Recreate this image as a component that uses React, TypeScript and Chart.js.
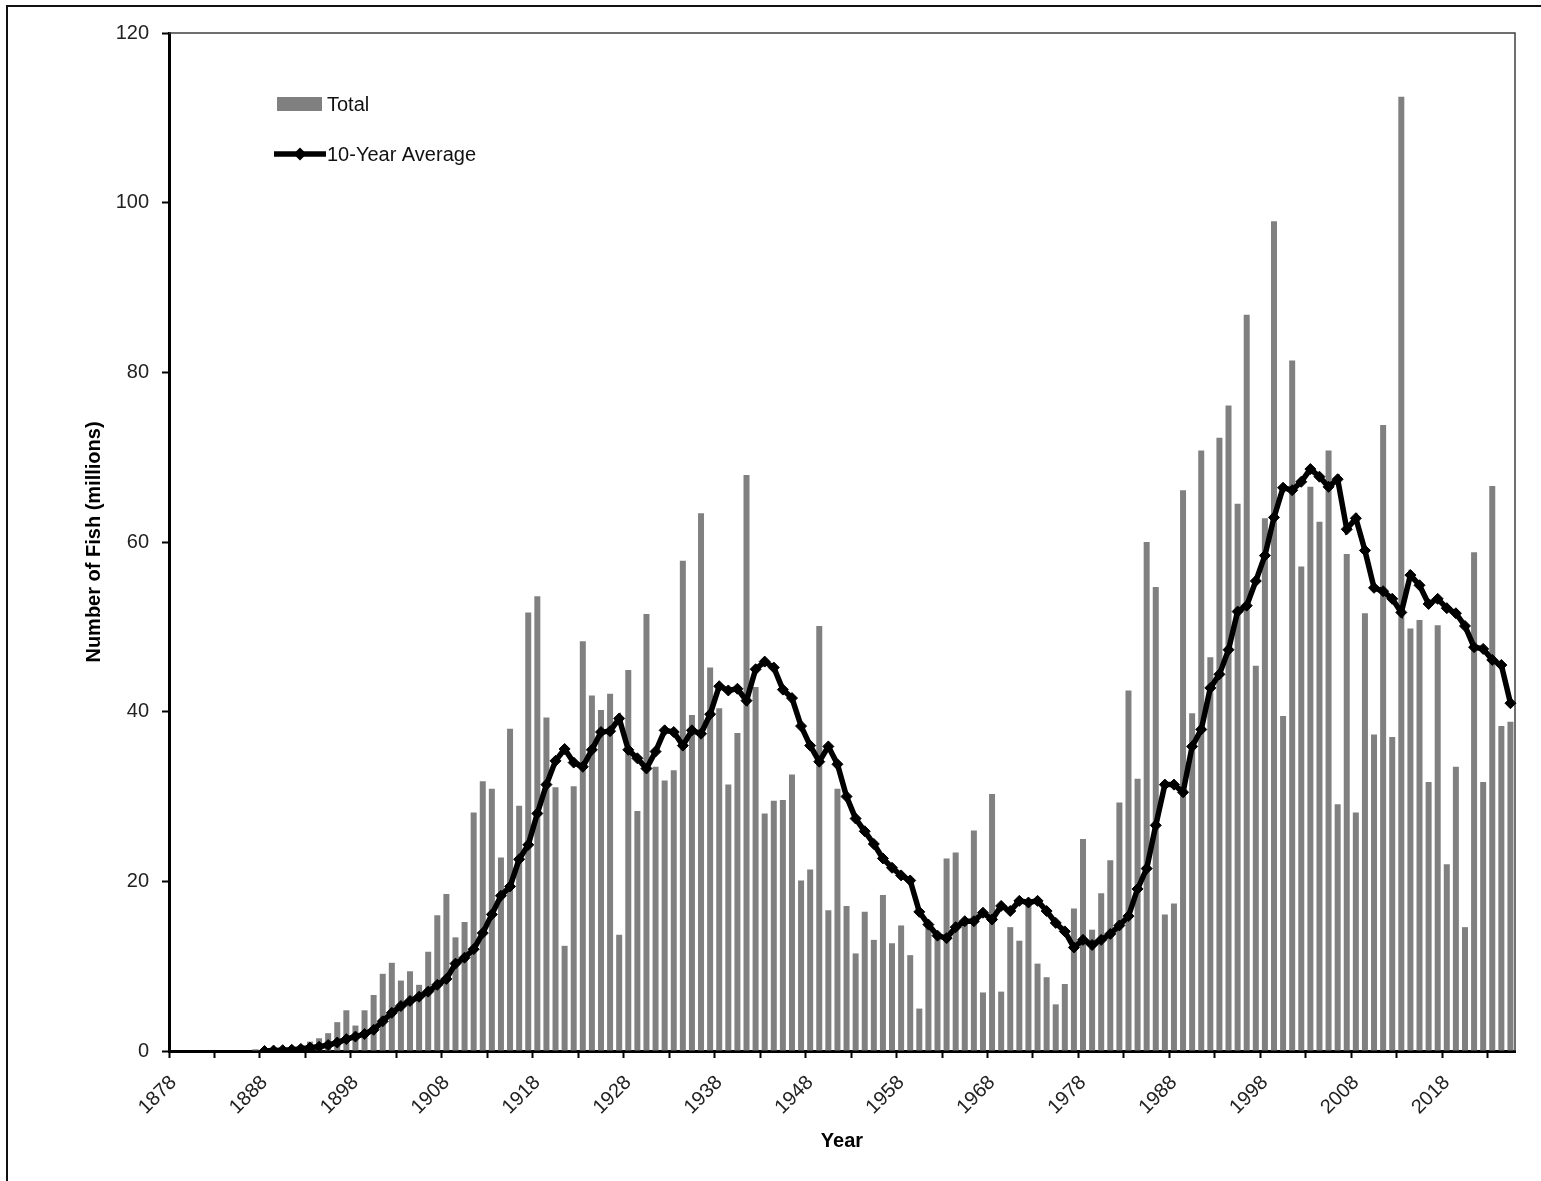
import React, { useEffect, useRef } from "react";
import { Chart, registerables, ChartConfiguration, Plugin } from "chart.js";

Chart.register(...registerables);

const FONT = "'Liberation Sans', Arial, sans-serif";
const BAR_COLOR = "#808080";

// category axis: one slot per year
const FIRST_YEAR = 1878;
const LAST_YEAR = 2025;
const years = Array.from({ length: LAST_YEAR - FIRST_YEAR + 1 }, (_, i) => String(FIRST_YEAR + i));

// annual totals (millions), starting 1887
const totalStartYear = 1887;
const totals = [
  0.2, 0.1, 0.2, 0.3, 0.5, 0.7, 1.1, 1.5, 2.1, 3.4, // 1887-1896
  4.8, 3.0, 4.8, 6.6, 9.1, 10.4, 8.3, 9.4, 7.8, 11.7, // 1897-1906
  16.0, 18.5, 13.4, 15.2, 28.1, 31.8, 30.9, 22.8, 38.0, 28.9, // 1907-1916
  51.7, 53.6, 39.3, 31.1, 12.4, 31.2, 48.3, 41.9, 40.2, 42.1, // 1917-1926
  13.7, 44.9, 28.3, 51.5, 33.5, 31.9, 33.1, 57.8, 39.6, 63.4, // 1927-1936
  45.2, 40.4, 31.4, 37.5, 67.9, 42.9, 28.0, 29.5, 29.6, 32.6, // 1937-1946
  20.1, 21.4, 50.1, 16.6, 30.9, 17.1, 11.5, 16.4, 13.1, 18.4, // 1947-1956
  12.7, 14.8, 11.3, 5.0, 15.1, 14.0, 22.7, 23.4, 15.3, 26.0, // 1957-1966
  6.9, 30.3, 7.0, 14.6, 13.0, 17.3, 10.3, 8.7, 5.5, 7.9, // 1967-1976
  16.8, 25.0, 14.3, 18.6, 22.5, 29.3, 42.5, 32.1, 60.0, 54.7, // 1977-1986
  16.1, 17.4, 66.1, 39.8, 70.8, 46.4, 72.3, 76.1, 64.5, 86.8, // 1987-1996
  45.4, 62.8, 97.8, 39.5, 81.4, 57.1, 66.5, 62.4, 70.8, 29.1, // 1997-2006
  58.6, 28.1, 51.6, 37.3, 73.8, 37.0, 112.5, 49.8, 50.8, 31.7, // 2007-2016
  50.2, 22.0, 33.5, 14.6, 58.8, 31.7, 66.6, 38.3, 38.8, // 2017-2025
];

// 10-year average (millions), starting 1888
const averageStartYear = 1888;
const averages = [
  0.0, 0.05, 0.1, 0.15, 0.25, 0.4, 0.5, 0.7, 1.0, 1.4, // 1888-1897
  1.7, 2.0, 2.5, 3.5, 4.5, 5.3, 5.9, 6.4, 7.0, 7.8, // 1898-1907
  8.5, 10.3, 11.0, 12.0, 13.9, 16.1, 18.3, 19.4, 22.6, 24.3, // 1908-1917
  28.0, 31.4, 34.2, 35.6, 34.0, 33.5, 35.5, 37.6, 37.7, 39.2, // 1918-1927
  35.5, 34.5, 33.3, 35.3, 37.8, 37.6, 36.0, 37.8, 37.4, 39.7, // 1928-1937
  43.0, 42.5, 42.7, 41.3, 45.0, 45.9, 45.2, 42.6, 41.6, 38.3, // 1938-1947
  36.0, 34.1, 35.9, 33.8, 30.0, 27.4, 25.9, 24.4, 22.7, 21.6, // 1948-1957
  20.7, 20.1, 16.4, 14.9, 13.6, 13.3, 14.6, 15.3, 15.3, 16.3, // 1958-1967
  15.5, 17.1, 16.5, 17.7, 17.5, 17.7, 16.5, 15.1, 14.1, 12.2, // 1968-1977
  13.1, 12.5, 13.1, 13.8, 14.8, 15.9, 19.1, 21.5, 26.6, 31.4, // 1978-1987
  31.4, 30.5, 35.9, 37.9, 42.8, 44.4, 47.3, 51.8, 52.5, 55.4, // 1988-1997
  58.4, 62.9, 66.4, 66.1, 67.1, 68.6, 67.7, 66.5, 67.4, 61.5, // 1998-2007
  62.8, 59.0, 54.6, 54.2, 53.3, 51.7, 56.1, 54.9, 52.7, 53.3, // 2008-2017
  52.2, 51.6, 50.1, 47.6, 47.4, 46.1, 45.5, 41.0, // 2018-2025
];

const yTicks = [0, 20, 40, 60, 80, 100, 120];

function alignToYears(startYear: number, values: number[]) {
  return years.map((y) => {
    const k = Number(y) - startYear;
    return k >= 0 && k < values.length ? values[k] : null;
  });
}

// thin frame on top/right of the plot area
const plotFrame: Plugin<"bar"> = {
  id: "plotFrame",
  beforeDatasetsDraw(chart) {
    const { ctx, chartArea: a } = chart;
    ctx.save();
    ctx.strokeStyle = "#404040";
    ctx.lineWidth = 1.5;
    ctx.beginPath();
    ctx.moveTo(a.left, a.top);
    ctx.lineTo(a.right, a.top);
    ctx.lineTo(a.right, a.bottom);
    ctx.stroke();
    ctx.restore();
  },
};

// legend drawn inside the plot, top-left
const inPlotLegend: Plugin<"bar"> = {
  id: "inPlotLegend",
  afterDatasetsDraw(chart) {
    const { ctx, chartArea: a } = chart;
    const ds = chart.data.datasets;
    const x0 = a.left + 105;
    ctx.save();
    ctx.font = `20px ${FONT}`;
    ctx.textBaseline = "middle";

    // bar entry
    const y1 = a.top + 71;
    ctx.fillStyle = BAR_COLOR;
    ctx.fillRect(x0 + 3, y1 - 7, 45, 14);
    ctx.fillStyle = "#111";
    ctx.fillText(String(ds[0].label), x0 + 53, y1 + 1);

    // line entry
    const y2 = a.top + 121;
    ctx.strokeStyle = "#000";
    ctx.lineWidth = 5.5;
    ctx.beginPath();
    ctx.moveTo(x0, y2);
    ctx.lineTo(x0 + 52, y2);
    ctx.stroke();
    ctx.fillStyle = "#000";
    ctx.beginPath();
    ctx.moveTo(x0 + 26, y2 - 6.5);
    ctx.lineTo(x0 + 32.5, y2);
    ctx.lineTo(x0 + 26, y2 + 6.5);
    ctx.lineTo(x0 + 19.5, y2);
    ctx.closePath();
    ctx.fill();
    ctx.fillStyle = "#111";
    ctx.fillText(String(ds[1].label), x0 + 53, y2 + 1);
    ctx.restore();
  },
};

export default function App() {
  const canvasRef = useRef<HTMLCanvasElement | null>(null);
  const chartRef = useRef<Chart | null>(null);

  useEffect(() => {
    if (!canvasRef.current) return;
    chartRef.current?.destroy();
    Chart.defaults.font.family = FONT;

    const config: ChartConfiguration<"bar" | "line", (number | null)[], string> = {
      type: "bar",
      data: {
        labels: years,
        datasets: [
          {
            type: "bar",
            label: "Total",
            data: alignToYears(totalStartYear, totals),
            backgroundColor: BAR_COLOR,
            borderWidth: 0,
            categoryPercentage: 1,
            barPercentage: 0.66,
            order: 1,
          },
          {
            type: "line",
            label: "10-Year Average",
            data: alignToYears(averageStartYear, averages),
            borderColor: "#000",
            borderWidth: 5.5,
            pointStyle: "rectRot",
            pointRadius: 5.5,
            pointBackgroundColor: "#000",
            pointBorderColor: "#000",
            pointBorderWidth: 1,
            tension: 0,
            spanGaps: false,
            order: 0,
          },
        ],
      },
      options: {
        animation: false,
        responsive: true,
        maintainAspectRatio: false,
        layout: { padding: { left: 75, top: 33, right: 26, bottom: 0 } },
        plugins: {
          legend: { display: false },
          tooltip: { enabled: false },
        },
        scales: {
          x: {
            type: "category",
            offset: true,
            afterFit: (scale) => {
              scale.height = 130;
            },
            border: { display: true, color: "#000", width: 3 },
            grid: {
              offset: true,
              drawOnChartArea: false,
              drawTicks: true,
              tickLength: 7,
              tickWidth: 2,
              tickColor: (c) => (c.index % 5 === 0 ? "#000" : "rgba(0,0,0,0)"),
            },
            ticks: {
              autoSkip: false,
              minRotation: 45,
              maxRotation: 45,
              padding: 13,
              color: "#222",
              font: { size: 20 },
              callback: (_v, i) => (i % 10 === 0 ? years[i] : ""),
            },
            title: {
              display: true,
              text: "Year",
              color: "#000",
              font: { size: 20, weight: "bold" },
              padding: { top: 0, bottom: 28 },
            },
          },
          y: {
            min: yTicks[0],
            max: yTicks[yTicks.length - 1],
            afterFit: (scale) => {
              scale.width = 94;
            },
            afterBuildTicks: (scale) => {
              scale.ticks = yTicks.map((v) => ({ value: v }));
            },
            border: { display: true, color: "#000", width: 3 },
            grid: {
              drawOnChartArea: false,
              drawTicks: true,
              tickLength: 7,
              tickWidth: 2,
              tickColor: "#000",
            },
            ticks: {
              padding: 13,
              color: "#222",
              font: { size: 20 },
            },
            title: {
              display: true,
              text: "Number of Fish (millions)",
              color: "#000",
              font: { size: 20, weight: "bold" },
              padding: { top: 7, bottom: 0 },
            },
          },
        },
      },
      plugins: [plotFrame, inPlotLegend],
    };

    chartRef.current = new Chart(canvasRef.current, config as any);
    return () => {
      chartRef.current?.destroy();
      chartRef.current = null;
    };
  }, []);

  return (
    <div style={{ position: "fixed", left: 0, top: 0, width: 1541, height: 1181, background: "#fff" }}>
      <canvas ref={canvasRef} style={{ width: "100%", height: "100%" }} />
      <div
        style={{
          position: "absolute",
          left: 6,
          top: 5,
          right: 0,
          bottom: 0,
          borderLeft: "2px solid #111",
          borderTop: "2px solid #111",
          pointerEvents: "none",
        }}
      />
    </div>
  );
}
